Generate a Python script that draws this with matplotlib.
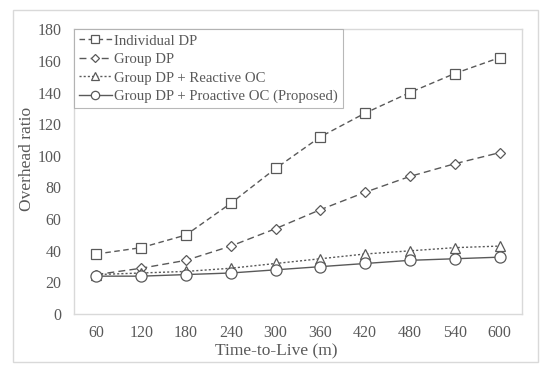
import matplotlib.pyplot as plt
from matplotlib.patches import Rectangle
import numpy as np

plt.rcParams.update({
    "font.family": "Liberation Serif",
    "font.size": 11,
})

ttl = ["60", "120", "180", "240", "300", "360", "420", "480", "540", "600"]
individual_dp = [38, 42, 50, 70, 92, 112, 127, 140, 152, 162]
group_dp = [25, 29, 34, 43, 54, 66, 77, 87, 95, 102]
reactive_oc = [25, 26, 27, 29, 32, 35, 38, 40, 42, 43]
proactive_oc = [24, 24, 25, 26, 28, 30, 32, 34, 35, 36]

GRAY = "#595959"
LIGHT = "#d9d9d9"

fig = plt.figure(figsize=(5.5, 3.74), dpi=100)
ax = fig.add_axes([0.1345, 0.160, 0.8145, 0.762])

# outer chart border
fig.patches.append(Rectangle((13 / 550, 1 - 362 / 374), 525 / 550, 352 / 374,
                             transform=fig.transFigure, fill=False,
                             edgecolor=LIGHT, linewidth=1.0))

x = np.arange(len(ttl))
mk = dict(markerfacecolor="white", markeredgecolor=GRAY, markersize=7,
          markeredgewidth=0.9, color=GRAY, linewidth=1.0)
ax.plot(x, individual_dp, linestyle=(0, (4, 2.5)), marker="s",
        label="Individual DP", **mk)
ax.plot(x, group_dp, linestyle=(0, (5, 3)), marker="D",
        label="Group DP", **{**mk, "markersize": 5})
ax.plot(x, reactive_oc, linestyle=(0, (1.5, 1.5)), marker="^",
        label="Group DP + Reactive OC", **mk)
ax.plot(x, proactive_oc, linestyle="-", marker="o",
        label="Group DP + Proactive OC (Proposed)", **{**mk, "markersize": 8})

ax.set_xlim(-0.5, len(ttl) - 0.5)
ax.set_ylim(0, 180)
ax.set_yticks(range(0, 181, 20))
ax.set_xticks(x)
ax.set_xticklabels(ttl)
ax.tick_params(length=0, colors=GRAY, labelsize=11.5, pad=8)
ax.tick_params(axis="y", pad=9)
for s in ax.spines.values():
    s.set_color(LIGHT)
    s.set_linewidth(1.0)

ax.set_xlabel("Time-to-Live (m)", fontsize=12.5, color=GRAY)
ax.set_ylabel("Overhead ratio", fontsize=12.5, color=GRAY)
ax.xaxis.set_label_coords(0.451, -0.13)
ax.xaxis.label.set_va("center")
ax.yaxis.set_label_coords(-0.104, 0.544)
ax.yaxis.label.set_va("center")

leg = ax.legend(loc="upper left", bbox_to_anchor=(0.0, 1.0), frameon=True,
                fancybox=False, borderaxespad=0, handlelength=2.2,
                handletextpad=0.2, borderpad=0.35, labelspacing=0.35,
                fontsize=10.6, markerscale=0.75)
leg.get_frame().set_edgecolor("#a6a6a6")
leg.get_frame().set_linewidth(0.8)
for t in leg.get_texts():
    t.set_color(GRAY)

fig.savefig("out.png", dpi=100)
